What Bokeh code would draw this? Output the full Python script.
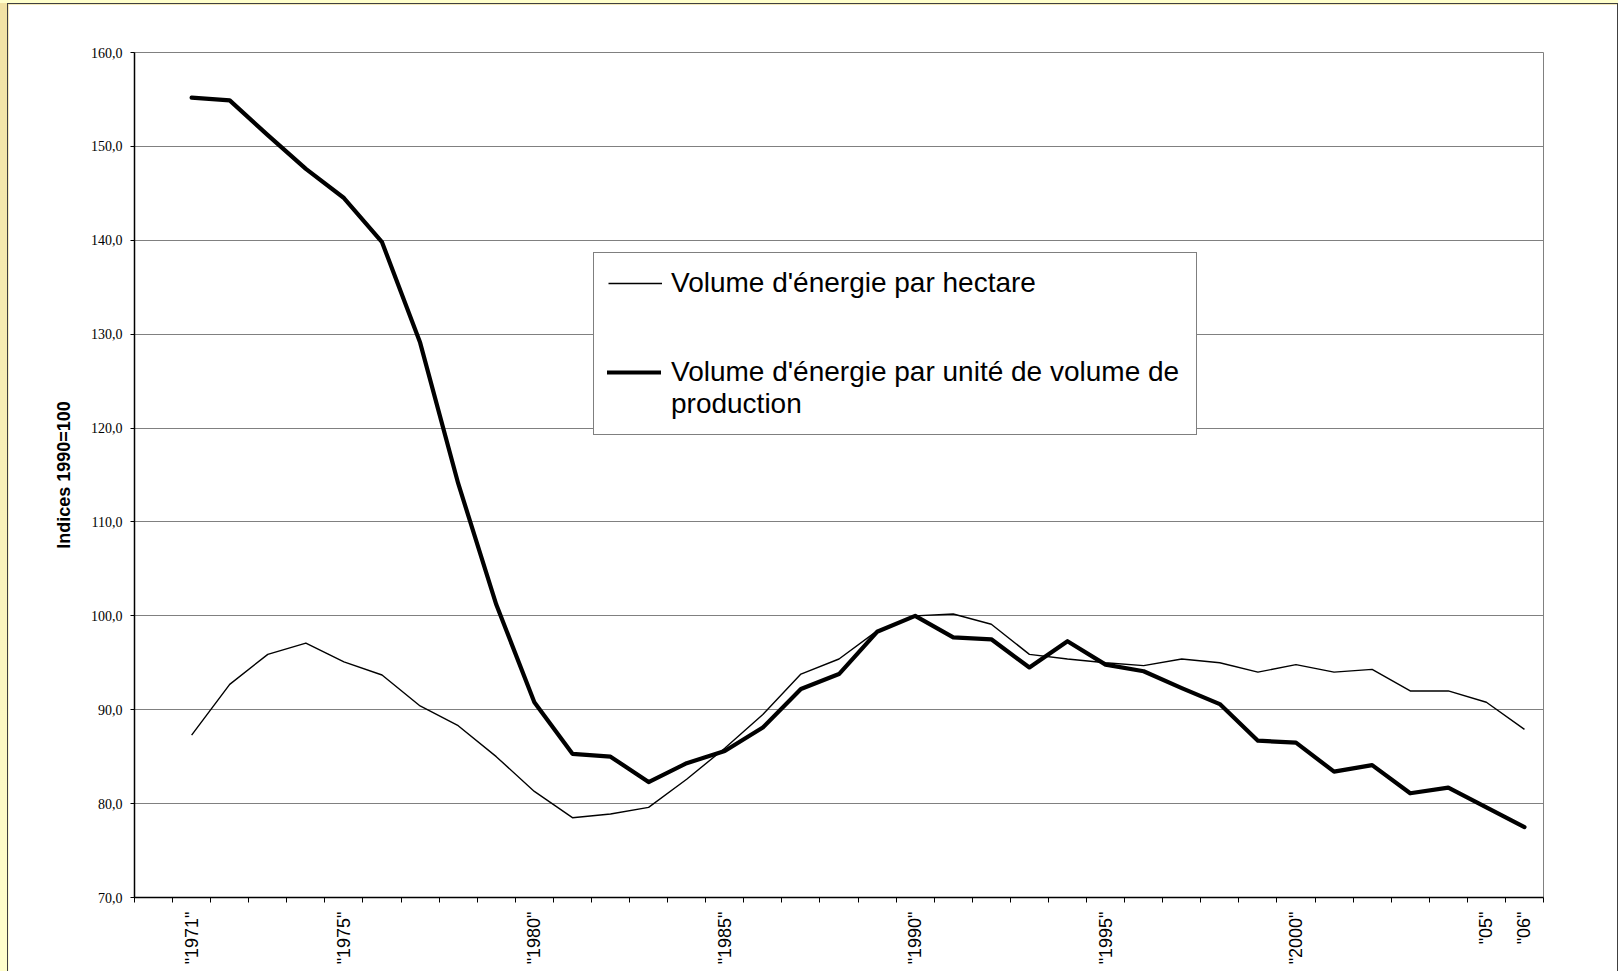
import math
from bokeh.plotting import figure
from bokeh.models import FixedTicker, Legend, LegendItem, Range1d
from bokeh.embed import file_html
from bokeh.resources import INLINE

# ---- data -------------------------------------------------------------
years = list(range(1971, 2007))
empty_slot = 1970  # first category slot of the axis is empty

energie_hectare = [87.3, 92.7, 95.9, 97.1, 95.1, 93.7, 90.4, 88.3, 85.0, 81.3,
                   78.5, 78.9, 79.6, 82.6, 85.9, 89.5, 93.8, 95.4, 98.4, 100.0,
                   100.2, 99.1, 95.9, 95.4, 95.0, 94.7, 95.4, 95.0, 94.0, 94.8,
                   94.0, 94.3, 92.0, 92.0, 90.8, 87.9]

energie_production = [155.2, 154.9, 151.2, 147.6, 144.5, 139.8, 129.1, 114.1, 101.2, 90.8,
                      85.3, 85.0, 82.3, 84.3, 85.6, 88.1, 92.2, 93.8, 98.3, 100.0,
                      97.7, 97.5, 94.5, 97.3, 94.8, 94.1, 92.3, 90.6, 86.7, 86.5,
                      83.4, 84.1, 81.1, 81.7, 79.6, 77.5]

label_years = [1971, 1975, 1980, 1985, 1990, 1995, 2000, 2005, 2006]
x_tick_labels = ['"1971"', '"1975"', '"1980"', '"1985"', '"1990"', '"1995"', '"2000"', '"05"', '"06"']

y_ticks = [70, 80, 90, 100, 110, 120, 130, 140, 150, 160]
y_tick_labels = ["70,0", "80,0", "90,0", "100,0", "110,0", "120,0", "130,0", "140,0", "150,0", "160,0"]

series_names = ["Volume d'énergie par hectare",
                "Volume d'énergie par unité de volume de\nproduction"]
y_title = "Indices 1990=100"

# ---- figure -----------------------------------------------------------
slots = [empty_slot] + years
boundaries = [s - 0.5 for s in slots] + [slots[-1] + 0.5]

p = figure(width=1618, height=971, output_backend="svg", toolbar_location=None,
           x_range=Range1d(boundaries[0], boundaries[-1]),
           y_range=Range1d(y_ticks[0], y_ticks[-1]),
           min_border_left=126, min_border_right=83,
           min_border_top=48, min_border_bottom=78)
p.styles = {
    "border-left": "7px solid transparent",
    "border-top": "3px solid transparent",
    "padding": "1px 1px 0px 1px",
    "background": "linear-gradient(to bottom, #F1E2A4, #FFFFCC)",
    "box-shadow": "inset 1px 1px 0px 0px #404040, inset -1px 0px 0px 0px #404040",
}
p.background_fill_color = "white"
p.border_fill_color = "white"
p.outline_line_color = "#808080"
p.outline_line_width = 1

r1 = p.line(years, energie_hectare, line_color="black", line_width=1.4,
            line_join="round")
r2 = p.line(years, energie_production, line_color="black", line_width=4.2,
            line_join="round", line_cap="round")
# invisible stand-in so the two-line legend label has no centred glyph
proxy = p.line(x=[], y=[], line_alpha=0)

# x axis
xa = p.xaxis[0]
xa.ticker = FixedTicker(ticks=label_years, minor_ticks=boundaries)
xa.major_label_overrides = {y: l for y, l in zip(label_years, x_tick_labels)}
xa.major_label_orientation = math.pi / 2
xa.major_tick_out = 0
xa.major_tick_in = 0
xa.minor_tick_out = 5
xa.minor_tick_in = 0
xa.minor_tick_line_color = "black"
xa.axis_line_color = "black"
xa.axis_line_width = 1.5
xa.major_label_text_font = "Liberation Sans"
xa.major_label_text_font_size = "18px"
xa.major_label_text_color = "black"
xa.major_label_standoff = 9

# y axis
ya = p.yaxis[0]
ya.ticker = FixedTicker(ticks=y_ticks)
ya.major_label_overrides = {t: l for t, l in zip(y_ticks, y_tick_labels)}
ya.major_tick_out = 4
ya.major_tick_in = 0
ya.minor_tick_line_color = None
ya.axis_line_color = "black"
ya.axis_line_width = 1.5
ya.major_tick_line_color = "black"
ya.major_label_text_font = "Liberation Serif"
ya.major_label_text_font_size = "14px"
ya.major_label_text_color = "black"
ya.major_label_standoff = 8
ya.axis_label = y_title
ya.axis_label_text_font = "Liberation Sans"
ya.axis_label_text_font_style = "bold"
ya.axis_label_text_font_size = "18px"
ya.axis_label_text_color = "black"
ya.axis_label_standoff = 14

p.xgrid.visible = False
p.ygrid.ticker = FixedTicker(ticks=y_ticks)
p.ygrid.grid_line_color = "#808080"
p.ygrid.grid_line_width = 1

# legend box with both labels
legend = Legend(items=[LegendItem(label=series_names[0], renderers=[r1]),
                       LegendItem(label=series_names[1], renderers=[proxy])],
                location=(459, 462))
legend.border_line_color = "black"
legend.border_line_width = 1
legend.background_fill_color = "white"
legend.background_fill_alpha = 1
legend.label_text_font = "Liberation Sans"
legend.label_text_font_size = "28px"
legend.label_text_color = "black"
legend.label_text_line_height = 1.3
legend.glyph_width = 54
legend.glyph_height = 30
legend.label_standoff = 9
legend.padding = 14
legend.spacing = 57
legend.label_width = 511
legend.margin = 0
p.add_layout(legend)

# thick-line key, aligned with the first line of its label
key = Legend(items=[LegendItem(label=" ", renderers=[r2])], location=(473, 521))
key.border_line_color = None
key.background_fill_alpha = 0
key.label_text_font_size = "1px"
key.glyph_width = 54
key.glyph_height = 8
key.label_height = 8
key.label_width = 0
key.label_standoff = 0
key.padding = 0
key.spacing = 0
key.margin = 0
p.add_layout(key)

open("out.html", "w").write(file_html(p, INLINE))
